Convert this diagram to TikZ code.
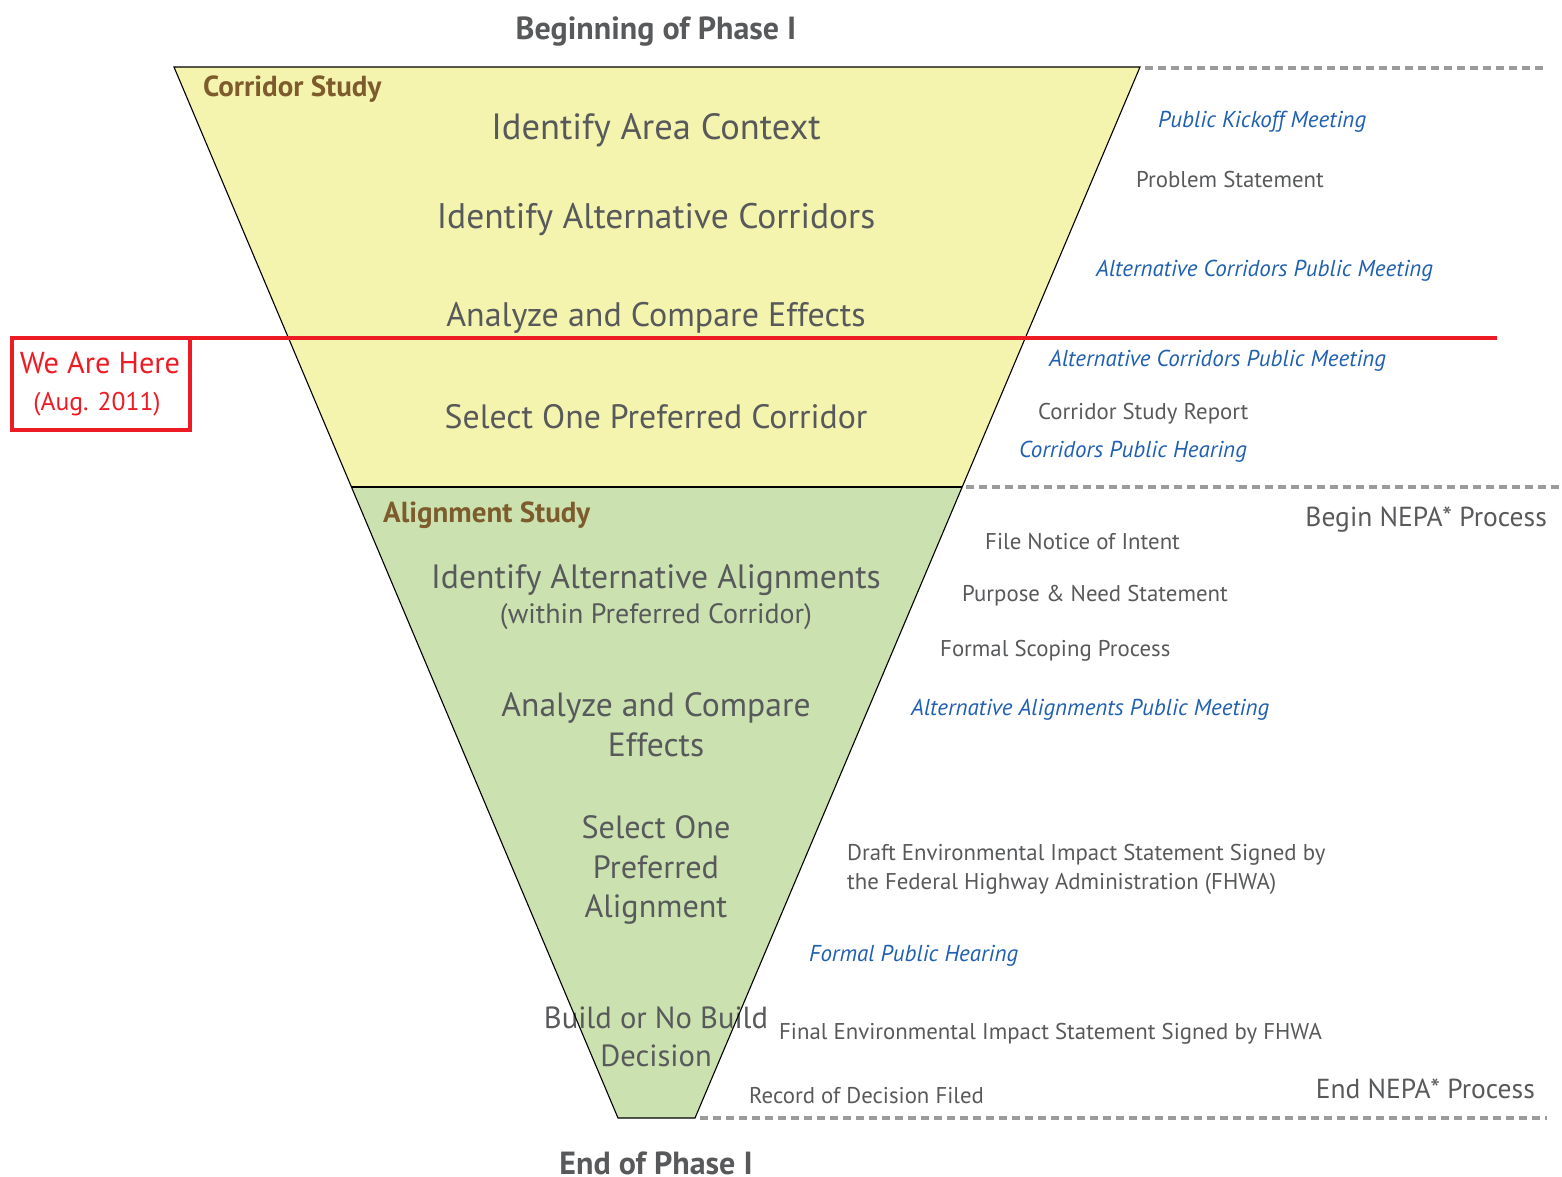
\documentclass[tikz,border=0pt]{standalone}
\usepackage{fontspec}
\setmainfont{PT Sans}

\definecolor{textgray}{HTML}{58595B}
\definecolor{corridoryellow}{HTML}{F4F4AE}
\definecolor{alignmentgreen}{HTML}{CBE2B0}
\definecolor{studybrown}{HTML}{7D5B2C}
\definecolor{meetingblue}{HTML}{2060B0}
\definecolor{herered}{HTML}{ED1C24}
\definecolor{dashgray}{HTML}{9B9B9B}

\tikzset{
  stage/.style={font=\fontsize{33.6}{40}\selectfont, text=textgray, align=center},
  substage/.style={font=\fontsize{28}{32}\selectfont, text=textgray},
  phase/.style={font=\bfseries\fontsize{32}{36}\selectfont, text=textgray},
  study/.style={font=\bfseries\fontsize{29}{32}\selectfont, text=studybrown, anchor=mid west, inner sep=0pt},
  note/.style={font=\fontsize{22.8}{29}\selectfont, text=textgray, anchor=mid west, inner sep=0pt, align=left},
  meeting/.style={font=\itshape\fontsize{23}{29}\selectfont, text=meetingblue, anchor=mid west, inner sep=0pt},
  nepa/.style={font=\fontsize{27.5}{32}\selectfont, text=textgray, anchor=mid east, inner sep=0pt},
  funnel/.style={line width=1.1pt, line join=miter},
  milestone/.style={dashgray, line width=4pt, dash pattern=on 8pt off 5pt},
}

\begin{document}
\begin{tikzpicture}[x=1pt, y=-1pt]
  \useasboundingbox (0,0) rectangle (1562,1176);

  % funnel corners
  \coordinate (TL) at (174,67);
  \coordinate (TR) at (1140,67);
  \coordinate (ML) at (351.4,487);
  \coordinate (MR) at (962,487);
  \coordinate (BL) at (618,1118);
  \coordinate (BR) at (695,1118);

  \fill [corridoryellow] (TL) -- (TR) -- (MR) -- (ML) -- cycle;
  \fill [alignmentgreen] (ML) -- (MR) -- (BR) -- (BL) -- cycle;

  \node [phase] (begin) at (656,32) {Beginning of Phase I};
  \node [phase] (end) at (656,1163) {End of Phase I};

  % corridor study
  \node [study] (corridor) at (203,94) {Corridor Study};
  \node [stage, font=\fontsize{36.5}{40}\selectfont] (context) at (656,130) {Identify Area Context};
  \node [stage, font=\fontsize{35.5}{40}\selectfont] (corridors) at (656,219) {Identify Alternative Corridors};
  \node [stage, font=\fontsize{34}{40}\selectfont] (compare1) at (656,318) {Analyze and Compare Effects};
  \node [stage, font=\fontsize{33.8}{40}\selectfont] (select1) at (656,417) {Select One Preferred Corridor};

  % alignment study
  \node [study] (alignment) at (383,520) {Alignment Study};
  \node [stage, font=\fontsize{33.7}{40}\selectfont] (alignments) at (656,580) {Identify Alternative Alignments};
  \node [substage] (within) at (656,617) {(within Preferred Corridor)};
  \node [stage] (compare2) at (656,725) {Analyze and Compare\\Effects};
  \node [stage, font=\fontsize{32.2}{39.5}\selectfont] (select2) at (656,870) {Select One\\Preferred\\Alignment};
  \node [stage, font=\fontsize{30.6}{38}\selectfont] (decision) at (656,1037) {Build or No Build\\Decision};

  \draw [funnel] (TL) -- (TR) -- (BR) -- (BL) -- cycle;
  \draw [funnel] (ML) -- (MR);

  % milestones on the right
  \node [meeting] (kickoff) at (1158,125) {Public Kickoff Meeting};
  \node [note] (problem) at (1136,185) {Problem Statement};
  \node [meeting] (altmeet1) at (1096,274) {Alternative Corridors Public Meeting};
  \node [meeting] (altmeet2) at (1049,364) {Alternative Corridors Public Meeting};
  \node [note] (report) at (1038,417) {Corridor Study Report};
  \node [meeting] (hearing1) at (1019,455) {Corridors Public Hearing};
  \node [nepa] (beginnepa) at (1547,524) {Begin NEPA* Process};
  \node [note] (intent) at (985,547) {File Notice of Intent};
  \node [note] (purpose) at (962,599) {Purpose \& Need Statement};
  \node [note] (scoping) at (940,654) {Formal Scoping Process};
  \node [meeting] (altmeet3) at (911,713) {Alternative Alignments Public Meeting};
  \node [note] (draft) at (847,887) {Draft Environmental Impact Statement Signed by\\the Federal Highway Administration (FHWA)};
  \node [meeting] (hearing2) at (809,959) {Formal Public Hearing};
  \node [note] (final) at (779,1037) {Final Environmental Impact Statement Signed by FHWA};
  \node [note] (record) at (749,1101) {Record of Decision Filed};
  \node [nepa] (endnepa) at (1535,1096) {End NEPA* Process};

  \coordinate (D1a) at (1145,68);
  \coordinate (D1b) at (1545,68);
  \coordinate (D2a) at (966,487);
  \coordinate (D2b) at (1562,487);
  \coordinate (D3a) at (700,1118);
  \coordinate (D3b) at (1547,1118);

  \draw [milestone] (D1a) -- (D1b);
  \draw [milestone] (D2a) -- (D2b);
  \draw [milestone] (D3a) -- (D3b);

  % we are here
  \coordinate (H1) at (10,338);
  \coordinate (H2) at (1497,338);
  \draw [herered, line width=4.5pt] (H1) -- (H2);
  \draw [herered, line width=4.5pt] (12,338) rectangle (190,430);
  \node [herered, font=\fontsize{30.3}{34}\selectfont] (here) at (100,363) {We Are Here};
  \node [herered, font=\fontsize{25.6}{28}\selectfont] (date) at (97,404) {(Aug. 2011)};
\end{tikzpicture}
\end{document}
